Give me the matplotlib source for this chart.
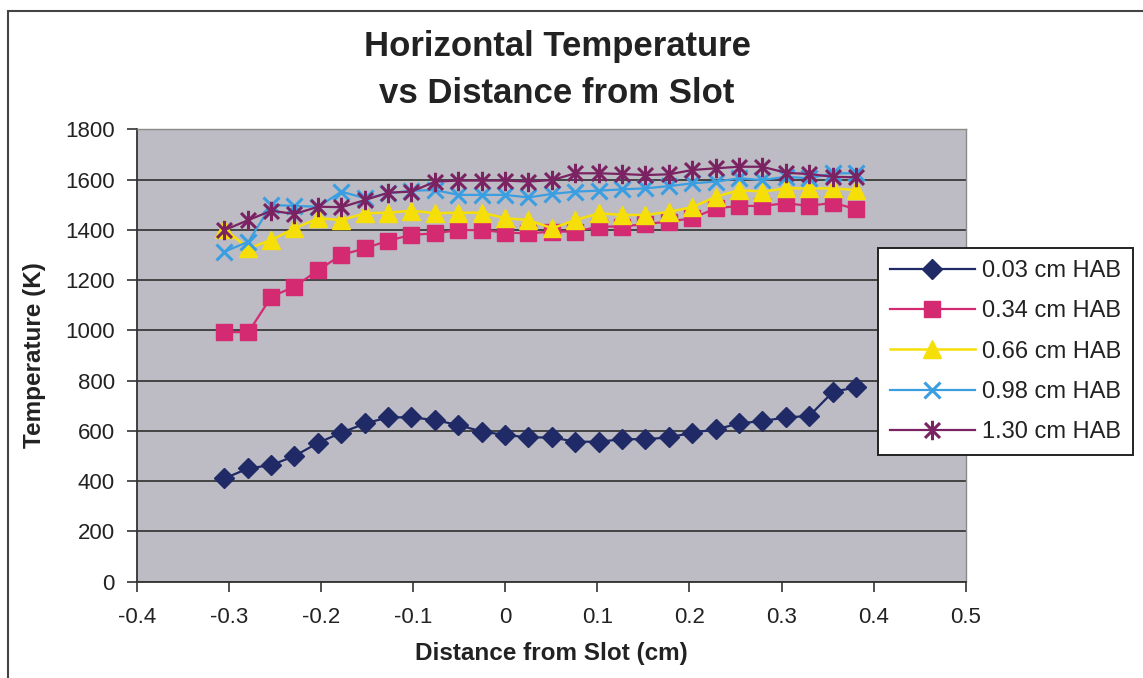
import matplotlib
matplotlib.use("Agg")
import matplotlib.pyplot as plt
from matplotlib.path import Path
from matplotlib.patches import Rectangle

plt.rcParams['font.family'] = ['Liberation Sans', 'DejaVu Sans']

# distance from slot (cm)
dist = [-0.305, -0.279, -0.254, -0.229, -0.203, -0.178, -0.152, -0.127, -0.102, -0.076,
        -0.051, -0.025, 0.0, 0.025, 0.051, 0.076, 0.102, 0.127, 0.152, 0.178,
        0.203, 0.229, 0.254, 0.279, 0.305, 0.330, 0.356, 0.381]

t_003 = [411, 451, 464, 500, 553, 593, 630, 654, 654, 643,
         623, 597, 584, 574, 574, 557, 557, 567, 567, 574,
         593, 606, 630, 639, 654, 659, 756, 773]
t_034 = [993, 993, 1134, 1174, 1240, 1300, 1327, 1357, 1380, 1386,
         1399, 1399, 1389, 1386, 1393, 1393, 1413, 1413, 1423, 1433,
         1446, 1486, 1495, 1495, 1506, 1495, 1508, 1482]
t_066 = [1403, 1326, 1360, 1406, 1446, 1439, 1466, 1468, 1476, 1466,
         1468, 1468, 1446, 1439, 1406, 1439, 1466, 1459, 1459, 1472,
         1490, 1532, 1558, 1552, 1565, 1565, 1565, 1558]
t_098 = [1313, 1353, 1499, 1495, 1492, 1552, 1525, 1545, 1556, 1558,
         1539, 1539, 1539, 1529, 1543, 1552, 1556, 1561, 1565, 1574,
         1585, 1592, 1605, 1598, 1611, 1605, 1625, 1625]
t_130 = [1399, 1439, 1476, 1463, 1492, 1490, 1519, 1548, 1552, 1592,
         1596, 1596, 1596, 1592, 1598, 1625, 1625, 1622, 1618, 1621,
         1638, 1645, 1651, 1651, 1627, 1622, 1611, 1609]

labels = ['0.03 cm HAB', '0.34 cm HAB', '0.66 cm HAB', '0.98 cm HAB', '1.30 cm HAB']

# excel style star: an X with a vertical bar through it
star = Path([(-1, -1), (1, 1), (-1, 1), (1, -1), (0, -1.3), (0, 1.3)],
            [Path.MOVETO, Path.LINETO, Path.MOVETO, Path.LINETO, Path.MOVETO, Path.LINETO])

fig = plt.figure(figsize=(11.43, 6.78), dpi=100)
ax = fig.add_axes([137/1143, 1 - 581.7/678, (965.7 - 137)/1143, (581.7 - 129.3)/678])
ax.set_facecolor('#bdbcc4')

ax.plot(dist, t_003, color='#1f2a66', lw=1.6, marker='D', ms=10, mec='#1f2a66', mfc='#1f2a66', label=labels[0])
ax.plot(dist, t_034, color='#d42a72', lw=1.6, marker='s', ms=11, mec='#d42a72', mfc='#d42a72', label=labels[1])
ax.plot(dist, t_066, color='#f6df08', lw=1.8, marker='^', ms=13, mec='#f6df08', mfc='#f6df08', label=labels[2])
ax.plot(dist, t_098, color='#3a9ee0', lw=1.6, marker='x', ms=12, mew=2.2, mec='#3a9ee0', label=labels[3])
ax.plot(dist, t_130, color='#7a2262', lw=1.6, marker=star, ms=14, mew=2.2, mec='#7a2262', mfc='none', label=labels[4])

ax.set_xlim(-0.4, 0.5)
ax.set_ylim(0, 1800)
ax.set_xticks([-0.4, -0.3, -0.2, -0.1, 0, 0.1, 0.2, 0.3, 0.4, 0.5])
ax.set_xticklabels(['-0.4', '-0.3', '-0.2', '-0.1', '0', '0.1', '0.2', '0.3', '0.4', '0.5'])
ax.set_yticks(range(0, 1801, 200))
ax.yaxis.grid(True, color='#3a3a3a', lw=1.3)
ax.set_axisbelow(True)
ax.tick_params(axis='both', direction='out', length=7, width=1.2, labelsize=16, color='#333333',
               labelcolor='#222222')
ax.tick_params(axis='y', pad=9)
ax.tick_params(axis='x', pad=11)
for s in ['left', 'bottom']:
    ax.spines[s].set_color('#333333')
    ax.spines[s].set_linewidth(1.3)
for s in ['top', 'right']:
    ax.spines[s].set_color('#8a8a8a')
    ax.spines[s].set_linewidth(1.0)

ax.set_xlabel('Distance from Slot (cm)', fontsize=17.5, fontweight='bold', labelpad=10, color='#222222')
ax.set_ylabel('Temperature (K)', fontsize=17.5, fontweight='bold', labelpad=14, color='#222222')

fig.text(557/1143, 1 - 70/678, 'Horizontal Temperature\nvs Distance from Slot', ha='center', va='center',
         fontsize=25, fontweight='bold', linespacing=1.55, color='#222222')

leg = ax.legend(loc='upper left', bbox_to_anchor=(878/1143, 1 - 248/678), bbox_transform=fig.transFigure,
                fontsize=17, frameon=True, fancybox=False, edgecolor='#222222', framealpha=1,
                handlelength=3.6, handletextpad=0.3, labelspacing=0.78, borderpad=0.5, borderaxespad=0)
leg.get_frame().set_linewidth(1.4)
for t in leg.get_texts():
    t.set_color('#222222')

# outer chart frame
fig.patches.append(Rectangle((8/1143, -0.1), 1.2, 1 - 11/678 + 0.1, transform=fig.transFigure,
                             fill=False, ec='#444444', lw=1.5))

fig.savefig('out.png', dpi=100)
